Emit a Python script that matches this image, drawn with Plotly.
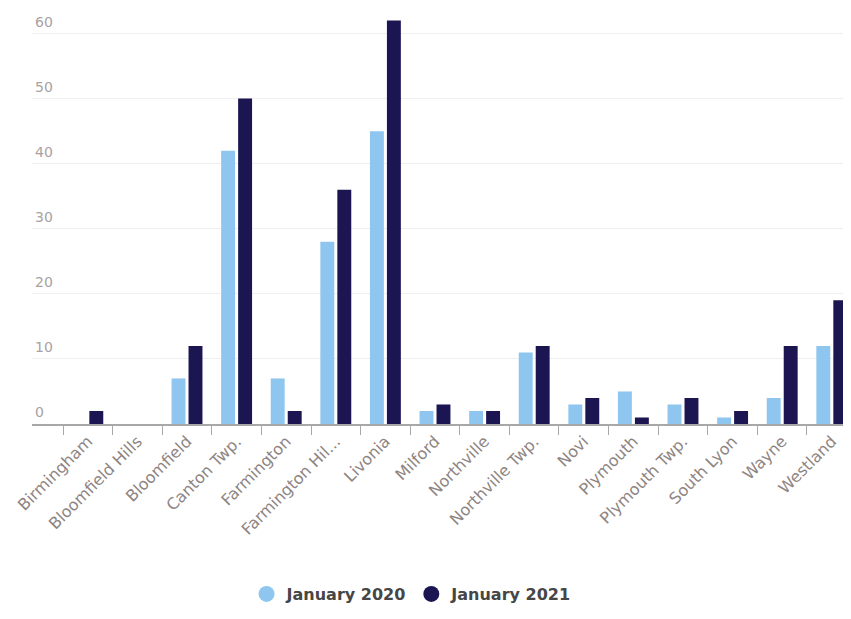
import plotly.graph_objects as go

cities = ["Birmingham", "Bloomfield Hills", "Bloomfield", "Canton Twp.", "Farmington",
          "Farmington Hil...", "Livonia", "Milford", "Northville", "Northville Twp.",
          "Novi", "Plymouth", "Plymouth Twp.", "South Lyon", "Wayne", "Westland"]
jan_2020 = [0, 0, 7, 42, 7, 28, 45, 2, 2, 11, 3, 5, 3, 1, 4, 12]
jan_2021 = [2, 0, 12, 50, 2, 36, 62, 3, 2, 12, 4, 1, 4, 2, 12, 19]
series_names = ["January 2020", "January 2021"]
y_ticks = [0, 10, 20, 30, 40, 50, 60]

light = "#8fc6ef"
dark = "#1b1652"
font_family = "DejaVu Sans, sans-serif"

fig = go.Figure()
fig.add_trace(go.Bar(x=cities, y=jan_2020, name=series_names[0], marker_color=light,
                     marker_line_width=0, showlegend=False))
fig.add_trace(go.Bar(x=cities, y=jan_2021, name=series_names[1], marker_color=dark,
                     marker_line_width=0, showlegend=False))
# legend entries with round markers
for nm, col in zip(series_names, [light, dark]):
    fig.add_trace(go.Scatter(x=[None], y=[None], mode="markers", name=nm,
                             marker=dict(symbol="circle", size=16, color=col)))

fig.update_layout(
    width=835, height=603,
    margin=dict(l=24, r=0, t=6, b=183),
    paper_bgcolor="white", plot_bgcolor="white",
    barmode="group", bargap=0.315, bargroupgap=0.18,
    font=dict(family=font_family),
    showlegend=True,
    legend=dict(orientation="h", x=0.468, xanchor="center", y=-0.415, yanchor="middle",
                font=dict(size=16, color="#464646", family=font_family, weight="bold"),
                itemsizing="trace", traceorder="normal"),
)
fig.update_xaxes(
    type="category", range=[-1.125, 15.226],
    tickangle=-45, tickfont=dict(size=16, color="#8e8482"),
    ticks="outside", tickson="boundaries", ticklen=9, tickcolor="#a8a8a8", tickwidth=1,
    showline=True, linecolor="#a8a8a8", linewidth=1.5,
    showgrid=False, zeroline=False,
)
fig.update_yaxes(
    range=[0, 63], tickvals=y_ticks,
    ticklabelposition="inside top", ticklabeloverflow="allow", ticklabelshift=-2,
    tickfont=dict(size=14, color="#a8a2a2"),
    showgrid=True, gridcolor="#efefef", gridwidth=1,
    zeroline=False, showline=False, ticks="",
)

fig.write_html("out.html")
